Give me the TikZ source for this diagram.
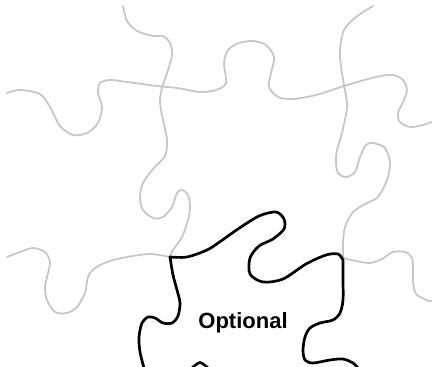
\documentclass[tikz,border=0pt]{standalone}
\usepackage{fontspec}
\setmainfont{Liberation Sans}
\usepackage{tikz}

\begin{document}
\begin{tikzpicture}[x=1pt, y=-1pt,
  seam/.style={draw=black!22, line width=1.8pt, line cap=round, line join=round},
  piece/.style={draw=black, line width=2.7pt, line cap=round, line join=round},
  label/.style={font=\fontsize{22}{26}\selectfont\bfseries, inner sep=0pt}]
\useasboundingbox (0,0) rectangle (432,367);
% grey seams between the other pieces
\draw[seam] plot[smooth] coordinates {(123,6) (127,21) (137,31) (153,36) (163,36) (170,43) (172,55) (167,73) (162,88) (160,102) (163,120) (167,140) (165,156) (153,169) (143,183) (140,197) (143,210) (153,218) (163,217) (172,207) (177,193) (182,190) (188,195) (190,207) (188,220) (182,237) (173,250) (170,257)};
\draw[seam] plot[smooth] coordinates {(7,93) (20,90) (40,94) (50,107) (60,126) (73,135) (87,133) (98,123) (102,107) (98,93) (100,83) (110,80) (127,82) (157,86) (177,88) (200,92) (216,90) (226,83) (224,63) (228,50) (239,43) (253,41) (266,45) (274,57) (271,73) (269,87) (278,97) (293,99) (316,95) (344,86) (376,77) (393,75) (403,80) (407,90) (403,102) (398,113) (400,122) (410,127) (423,125) (432,122)};
\draw[seam] plot[smooth] coordinates {(373,6) (356,17) (344,30) (340,50) (341,67) (344,85) (347,107) (342,133) (337,150) (336,162) (338,173) (346,177) (355,172) (360,157) (366,145) (373,143) (385,148) (390,163) (387,180) (378,197) (367,203) (353,212) (345,227) (343,243) (343,258)};
\draw[seam] plot[smooth] coordinates {(7,257) (20,252) (33,248) (45,252) (50,262) (48,273) (45,287) (47,300) (55,312) (67,313) (77,307) (85,293) (88,277) (95,268) (110,261) (127,257) (150,254) (170,257)};
\draw[seam] plot[smooth] coordinates {(343,258) (356,261) (370,263) (382,259) (393,252) (405,252) (412,258) (413,270) (413,281) (416,294) (429,301) (432,301)};
% the highlighted piece
\draw[piece] plot[smooth] coordinates {(144,368) (140,352) (139,337) (142,323) (148,317) (155,318) (163,323) (172,323) (178,316) (180,303) (177,290) (173,275) (170,257)}
  -- plot[smooth] coordinates {(170,257) (187,257) (207,250) (221,241) (238,229) (259,216) (276,212) (284,219) (284,229) (273,239) (259,246) (250,258) (250,274) (263,282) (283,279) (306,264) (326,255) (338,254) (343,260)}
  -- plot[smooth] coordinates {(343,260) (343,280) (343,300) (340,313) (333,320) (320,323) (310,328) (305,337) (303,350) (305,360) (313,363) (330,360) (343,359) (353,363) (358,368)};
\draw[piece] plot[smooth] coordinates {(192,368) (200,362.5) (208,368)};
\node[label] (opt) at (243,323) {Optional};
\end{tikzpicture}
\end{document}
